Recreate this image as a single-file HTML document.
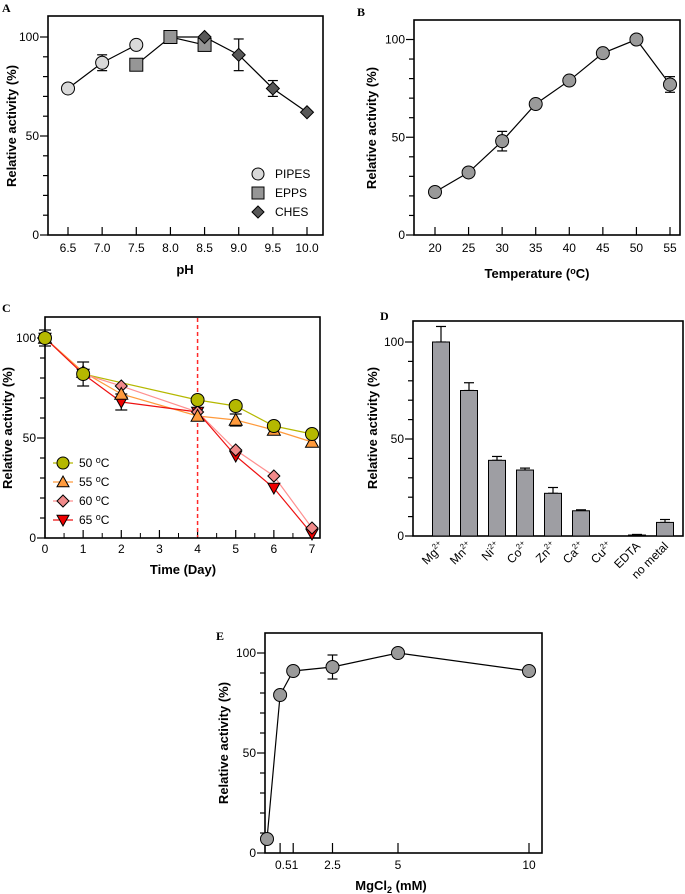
<!DOCTYPE html>
<html><head><meta charset="utf-8"><style>
html,body{margin:0;padding:0;background:#fff;}
svg{display:block;font-family:"Liberation Sans",Arial,sans-serif;}
.pl{font-family:"Liberation Serif",serif;font-weight:bold;font-size:12px;}
</style></head><body>
<svg id="fig" width="685" height="894" viewBox="0 0 685 894" xmlns="http://www.w3.org/2000/svg">
<text class="pl" x="2" y="12">A</text>
<text class="pl" x="357" y="16">B</text>
<text class="pl" x="2" y="312">C</text>
<text class="pl" x="380" y="320">D</text>
<text class="pl" x="216" y="640">E</text>
</svg>
<script>
// Panel A data
const phPipesX=[6.5,7.0,7.5]; const phPipesY=[74,87,96]; const phPipesE=[0,4,0];
const phEppsX=[7.5,8.0,8.5]; const phEppsY=[86,100,96]; const phEppsE=[0,0,0];
const phChesX=[8.5,9.0,9.5,10.0]; const phChesY=[100,91,74,62]; const phChesE=[0,8,4,0];
const phTicks=["6.5","7.0","7.5","8.0","8.5","9.0","9.5","10.0"];
// Panel B data
const tempX=[20,25,30,35,40,45,50,55]; const tempY=[22,32,48,67,79,93,100,77]; const tempE=[0,0,5,0,0,0,0,4];
// Panel C data
const dayX50=[0,1,4,5,6,7]; const act50=[100,82,69,66,56,52]; const err50=[0,6,0,0,0,0];
const dayX55=[0,1,2,4,5,6,7]; const act55=[100,83,72,61,59,54,48]; const err55=[0,0,0,0,3,0,0];
const dayX60=[0,1,2,4,5,6,7]; const act60=[100,82,76,63,44,31,5];
const dayX65=[0,1,2,4,5,6,7]; const act65=[100,82,68,63,41,25,2]; const err65=[4,0,4,0,0,0,0];
const dayTicks=[0,1,2,3,4,5,6,7];
// Panel D data
const metals=["Mg","Mn","Ni","Co","Zn","Ca","Cu","EDTA","no metal"];
const metalSup=["2+","2+","2+","2+","2+","2+","2+","",""];
const metalVals=[100,75,39,34,22,13,0,0.5,7];
const metalErr=[8,4,2,1,3,0.5,0,0.3,1.5];
// Panel E data
const mgX=[0,0.5,1,2.5,5,10]; const mgY=[7,79,91,93,100,91]; const mgE=[0,0,0,6,0,0];
const mgTicks=[0.5,1,2.5,5,10]; const mgTickLabels=["0.5","1","2.5","5","10"];

const svg=document.getElementById('fig');
const NS="http://www.w3.org/2000/svg";
function mk(tag,attrs,parent){const e=document.createElementNS(NS,tag);for(const k in attrs)e.setAttribute(k,attrs[k]);(parent||svg).appendChild(e);return e;}
function lin(d0,d1,r0,r1){return v=>r0+(v-d0)*(r1-r0)/(d1-d0);}

function frame(x0,y0,x1,y1,ys,name,ylabelX,ycy){
  const g=mk('g',{});
  
  
  mk('rect',{x:x0,y:y0,width:x1-x0,height:y1-y0,fill:'none',stroke:'#000','stroke-width':1.6},g);
  for(let v=0;v<=100;v+=10){const y=ys(v);const major=v%50===0;
    mk('line',{x1:x0-(major?8:5),x2:x0,y1:y,y2:y,stroke:'#000','stroke-width':1.2},g);
    if(major){const t=mk('text',{x:x0-9,y:y+4,'text-anchor':'end','font-size':12},g);t.textContent=v;}}
  const t=mk('text',{x:ylabelX,y:ycy,'text-anchor':'middle','font-size':13,'font-weight':'bold',transform:`rotate(-90 ${ylabelX} ${ycy})`},g);
  t.textContent='Relative activity (%)';
  
  
  return g;
}
function errbar(x,y0,y1,w,color){mk('line',{x1:x,x2:x,y1:y0,y2:y1,stroke:color,'stroke-width':1.2});
  mk('line',{x1:x-w,x2:x+w,y1:y0,y2:y0,stroke:color,'stroke-width':1.2});mk('line',{x1:x-w,x2:x+w,y1:y1,y2:y1,stroke:color,'stroke-width':1.2});}
function marker(type,x,y,fill,r,name){let e;
  if(type==='c')e=mk('circle',{cx:x,cy:y,r:r,fill:fill,stroke:'#000','stroke-width':1});
  else if(type==='s')e=mk('rect',{x:x-r,y:y-r,width:2*r,height:2*r,fill:fill,stroke:'#000','stroke-width':1});
  else if(type==='d')e=mk('polygon',{points:`${x},${y-r} ${x+r},${y} ${x},${y+r} ${x-r},${y}`,fill:fill,stroke:'#000','stroke-width':1});
  else if(type==='t')e=mk('polygon',{points:`${x},${y-r} ${x+r},${y+r*0.8} ${x-r},${y+r*0.8}`,fill:fill,stroke:'#000','stroke-width':1});
  else e=mk('polygon',{points:`${x},${y+r} ${x+r},${y-r*0.8} ${x-r},${y-r*0.8}`,fill:fill,stroke:'#000','stroke-width':1});
  
  
  return e;}
function series(xs,ys,X,Y,col,w){mk('polyline',{points:xs.map((v,i)=>X(v)+','+Y(ys[i])).join(' '),fill:'none',stroke:col,'stroke-width':w||1.2});}

// ---------- Panel A
(function(){
  const X=lin(6.5,10,68,307),Y=lin(0,100,235,37);
  frame(48,16,323,235,Y,'ph-chart',16,126);
  phTicks.forEach(t=>{const x=X(+t);mk('line',{x1:x,x2:x,y1:235,y2:227,stroke:'#000','stroke-width':1.2});
    const e=mk('text',{x:x,y:252,'text-anchor':'middle','font-size':12});e.textContent=t;});
  const tt=mk('text',{x:185,y:274,'text-anchor':'middle','font-size':13,'font-weight':'bold'});tt.textContent='pH';
  
  
  series(phPipesX,phPipesY,X,Y,'#000');series(phEppsX,phEppsY,X,Y,'#000');series([8.0].concat(phChesX),[100].concat(phChesY),X,Y,'#000');
  [[phPipesX,phPipesY,phPipesE],[phEppsX,phEppsY,phEppsE],[phChesX,phChesY,phChesE]].forEach(s=>s[0].forEach((x,i)=>{if(s[2][i])errbar(X(x),Y(s[1][i]+s[2][i]),Y(s[1][i]-s[2][i]),5,'#000');}));
  phPipesX.forEach((x,i)=>marker('c',X(x),Y(phPipesY[i]),'#d9d9d9',6.5,'pipes-point'));
  phEppsX.forEach((x,i)=>marker('s',X(x),Y(phEppsY[i]),'#969696',6.5,'epps-point'));
  phChesX.forEach((x,i)=>marker('d',X(x),Y(phChesY[i]),'#585858',6.5,'ches-point'));
  [['c','#d9d9d9','PIPES'],['s','#969696','EPPS'],['d','#585858','CHES']].forEach((l,i)=>{const y=174+i*19;
    marker(l[0],258,y,l[1],6,'legend-marker-'+l[2].toLowerCase());
    const t=mk('text',{x:275,y:y+4,'font-size':12});t.textContent=l[2];
    
    });
})();

// ---------- Panel B
(function(){
  const X=lin(20,55,435,670),Y=lin(0,100,235,39.5);
  frame(414,20,680,235,Y,'temp-chart',376,128);
  tempX.forEach(v=>{const x=X(v);mk('line',{x1:x,x2:x,y1:235,y2:227,stroke:'#000','stroke-width':1.2});
    const e=mk('text',{x:x,y:252,'text-anchor':'middle','font-size':12});e.textContent=v;});
  const tt=mk('text',{x:537,y:278,'text-anchor':'middle','font-size':13,'font-weight':'bold'});
  tt.innerHTML='Temperature (<tspan dy="-4" font-size="9">o</tspan><tspan dy="4">C)</tspan>';
  
  
  series(tempX,tempY,X,Y,'#000');
  tempX.forEach((x,i)=>{if(tempE[i])errbar(X(x),Y(tempY[i]+tempE[i]),Y(tempY[i]-tempE[i]),5,'#000');});
  tempX.forEach((x,i)=>marker('c',X(x),Y(tempY[i]),'#9a9a9a',6.5,'temp-point'));
})();

// ---------- Panel C
(function(){
  const X=lin(0,7,45,312),Y=lin(0,100,538,338);
  frame(45,317,320,538,Y,'stability-chart',12,428);
  dayTicks.forEach(v=>{const x=X(v);mk('line',{x1:x,x2:x,y1:538,y2:530,stroke:'#000','stroke-width':1.2});
    if(v<7)mk('line',{x1:X(v+0.5),x2:X(v+0.5),y1:538,y2:533,stroke:'#000','stroke-width':1});
    const e=mk('text',{x:x,y:553,'text-anchor':'middle','font-size':12});e.textContent=v;});
  const tt=mk('text',{x:183,y:574,'text-anchor':'middle','font-size':13,'font-weight':'bold'});tt.textContent='Time (Day)';
  
  
  const dl=mk('line',{x1:X(4),x2:X(4),y1:318,y2:537,stroke:'#ff2a2a','stroke-width':1.5,'stroke-dasharray':'4,3'});
  
  
  series(dayX50,act50,X,Y,'#b5b800');series(dayX55,act55,X,Y,'#ff9a3c');series(dayX60,act60,X,Y,'#ff9090');series(dayX65,act65,X,Y,'#ee1111');
  dayX50.forEach((x,i)=>{if(err50[i])errbar(X(x),Y(act50[i]+err50[i]),Y(act50[i]-err50[i]),6,'#000');});
  dayX55.forEach((x,i)=>{if(err55[i])errbar(X(x),Y(act55[i]+err55[i]),Y(act55[i]-err55[i]),6,'#000');});
  dayX65.forEach((x,i)=>{if(err65[i])errbar(X(x),Y(act65[i]+err65[i]),Y(act65[i]-err65[i]),6,'#000');});
  dayX65.forEach((x,i)=>marker('v',X(x),Y(act65[i]),'#ee0000',6,'series-65c-point'));
  dayX60.forEach((x,i)=>marker('d',X(x),Y(act60[i]),'#f08a8a',6,'series-60c-point'));
  dayX55.forEach((x,i)=>marker('t',X(x),Y(act55[i]),'#ff9a3c',6.5,'series-55c-point'));
  dayX50.forEach((x,i)=>marker('c',X(x),Y(act50[i]),'#b5b800',6.5,'series-50c-point'));
  [['c','#b5b800','#b5b800','50'],['t','#ff9a3c','#ff9a3c','55'],['d','#f08a8a','#ff9090','60'],['v','#ee0000','#ee1111','65']].forEach((l,i)=>{const y=463+i*19;
    mk('line',{x1:53,x2:73,y1:y,y2:y,stroke:l[2],'stroke-width':1.2});
    marker(l[0],63,y,l[1],6,'legend-marker-'+l[3]+'c');
    const t=mk('text',{x:79,y:y+4,'font-size':12});t.innerHTML=l[3]+' <tspan dy="-4" font-size="9">o</tspan><tspan dy="4">C</tspan>';
    
    });
})();

// ---------- Panel D
(function(){
  const Y=lin(0,100,536,342);const X=i=>441+i*28;
  frame(413,321,683,536,Y,'metal-chart',377,428);
  metals.forEach((m,i)=>{const x=X(i),v=metalVals[i];
    if(metalErr[i])errbar(x,Y(v+metalErr[i]),Y(v),5,'#000');
    const b=mk('rect',{x:x-8.5,y:Y(v),width:17,height:536-Y(v),fill:'#9e9ea3',stroke:'#000','stroke-width':1});
    
    
    const t=mk('text',{x:x+4,y:547,'text-anchor':'end','font-size':12,transform:`rotate(-45 ${x+4} 547)`});
    t.innerHTML=m+(metalSup[i]?'<tspan dy="-5" font-size="8">'+metalSup[i]+'</tspan>':'');
    
    });
})();

// ---------- Panel E
(function(){
  const X=lin(0,10,267,529),Y=lin(0,100,853,653);
  frame(265,633,542,853,Y,'mgcl2-chart',228,743);
  mgTicks.forEach((v,i)=>{const x=X(v);mk('line',{x1:x,x2:x,y1:853,y2:843,stroke:'#000','stroke-width':1.2});});
  const lb=mk('text',{x:X(0.75),y:869,'text-anchor':'middle','font-size':12});lb.textContent=mgTickLabels[0]+mgTickLabels[1];
  for(let i=2;i<mgTicks.length;i++){const e=mk('text',{x:X(mgTicks[i]),y:869,'text-anchor':'middle','font-size':12});e.textContent=mgTickLabels[i];}
  const tt=mk('text',{x:391,y:890,'text-anchor':'middle','font-size':13,'font-weight':'bold'});
  tt.innerHTML='MgCl<tspan dy="3" font-size="9">2</tspan><tspan dy="-3"> (mM)</tspan>';
  
  
  series(mgX,mgY,X,Y,'#000');
  mgX.forEach((x,i)=>{if(mgE[i])errbar(X(x),Y(mgY[i]+mgE[i]),Y(mgY[i]-mgE[i]),5,'#000');});
  mgX.forEach((x,i)=>marker('c',X(x),Y(mgY[i]),'#9a9a9a',6.5,'mgcl2-point'));
})();
</script>
</body></html>
